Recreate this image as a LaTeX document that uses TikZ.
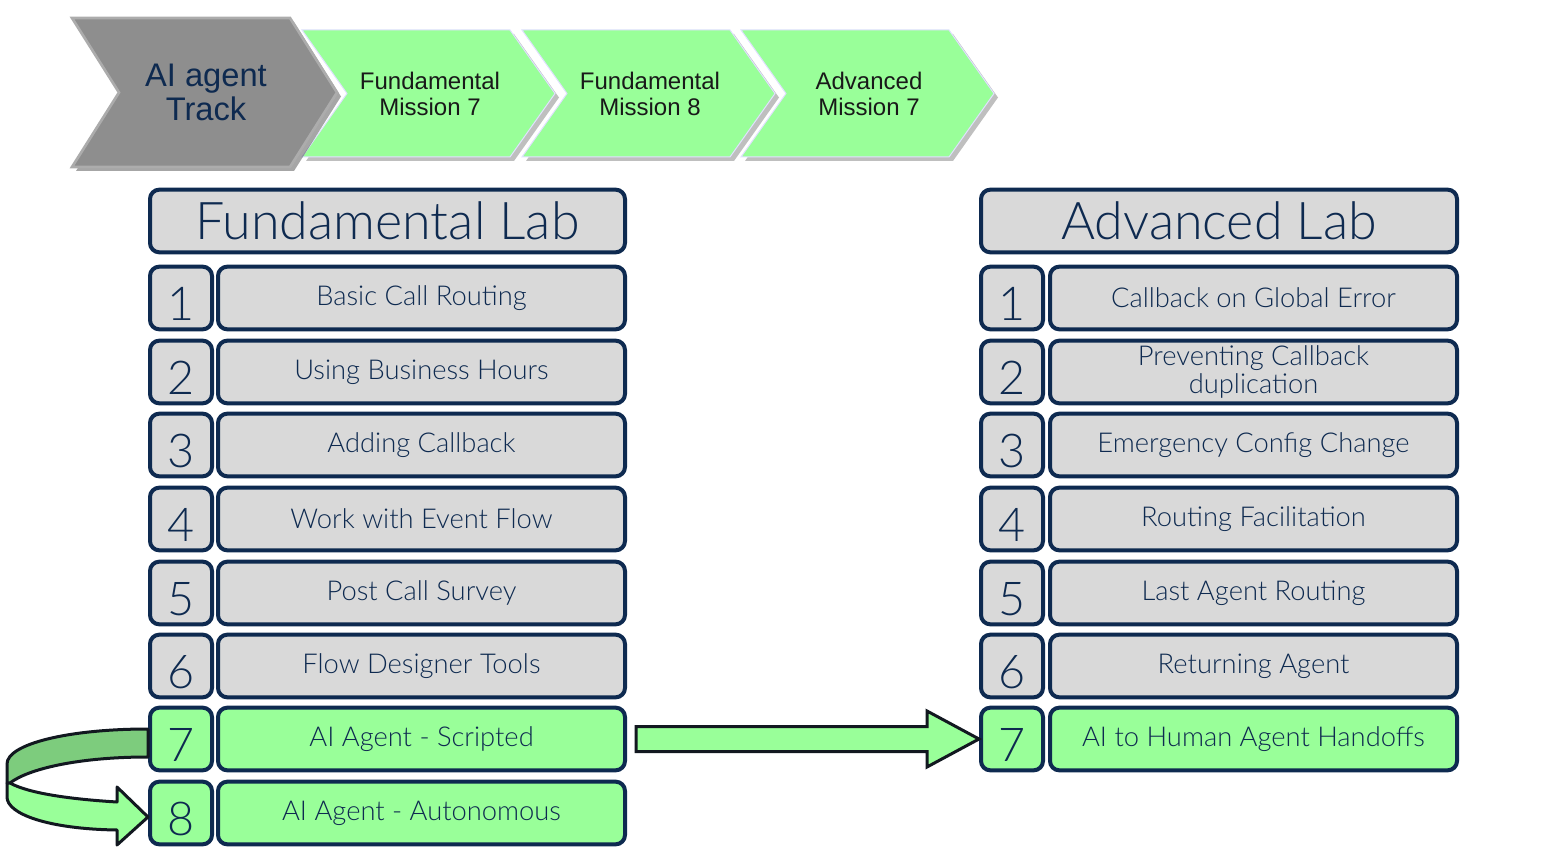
\documentclass[tikz,border=0pt]{standalone}
\usepackage{fontspec}
\setmainfont{Lato Light}
\newfontfamily\arialfont{Liberation Sans}
\usepackage{tikz}
\usetikzlibrary{calc,shadows}
\definecolor{navy}{HTML}{0E2A50}
\definecolor{labgray}{HTML}{D9D9D9}
\definecolor{labgreen}{HTML}{99FF99}
\definecolor{darkgreen}{HTML}{7DCC7D}
\definecolor{chevgray}{HTML}{8E8E8E}
\definecolor{outline}{HTML}{121820}
\tikzset{
    labbox/.style={draw=navy,line width=3pt,rounded corners=7pt,fill=labgray,text=navy,inner sep=0pt},
    titlebox/.style={labbox,minimum width=356.25pt,minimum height=47pt,font=\fontsize{39}{43}\selectfont},
    numbox/.style={labbox,minimum width=46.5pt,minimum height=47pt,text height=34pt,text depth=0pt,font=\fontsize{35}{38}\selectfont},
    stepbox/.style={labbox,minimum width=305.25pt,minimum height=47pt,align=center,font=\fontsize{20.5}{21.5}\selectfont},
    done/.style={fill=labgreen},
    chevron/.style={fill=labgreen,draw=blue!12,line width=0.75pt,line join=miter,
        drop shadow={shadow xshift=3pt,shadow yshift=-3pt,fill=black,opacity=0.25}},
    trackchevron/.style={fill=chevgray,draw=gray!65,line width=2pt,
        drop shadow={shadow xshift=3pt,shadow yshift=-3pt,fill=black,opacity=0.35}},
    chevtext/.style={align=center,text=black!90,font=\arialfont\fontsize{18}{19.5}\selectfont},
    bigarrow/.style={fill=labgreen,draw=outline,line width=2.25pt,line join=miter},
    turnarrow/.style={draw=outline,line width=2.25pt,line join=round}
}
\begin{document}
\begin{tikzpicture}[x=0.75pt,y=-0.75pt]
\useasboundingbox (0,0) rectangle (1543,852);
% mission track
\draw[chevron](302,30)--++(208,0)--++(45,63.5)--++(-45,63.5)--++(-208,0)--++(45,-63.5)--cycle;
\draw[chevron](522,30)--++(208,0)--++(45,63.5)--++(-45,63.5)--++(-208,0)--++(45,-63.5)--cycle;
\draw[chevron](741,30)--++(208,0)--++(45,63.5)--++(-45,63.5)--++(-208,0)--++(45,-63.5)--cycle;
\draw[trackchevron](72,18)--(290,18)--(337,92.5)--(290,167)--(72,167)--(119,92.5)--cycle;
\node[align=center,text=navy,font=\arialfont\fontsize{24.5}{26}\selectfont](track) at (206,92.5){AI agent\\Track};
\node[chevtext](mis1) at (430,93.5){Fundamental\\Mission 7};
\node[chevtext](mis2) at (650,93.5){Fundamental\\Mission 8};
\node[chevtext](mis3) at (869,93.5){Advanced\\Mission 7};
% fundamental lab
\node[titlebox](fhead) at (387.5,221){Fundamental Lab};
\node[numbox](fnum1) at (181,298){1};
\node[stepbox](ftxt1) at (421.5,298){Basic Call Routing};
\node[numbox](fnum2) at (181,372){2};
\node[stepbox](ftxt2) at (421.5,372){Using Business Hours};
\node[numbox](fnum3) at (181,445){3};
\node[stepbox](ftxt3) at (421.5,445){Adding Callback};
\node[numbox](fnum4) at (181,519){4};
\node[stepbox](ftxt4) at (421.5,519){Work with Event Flow};
\node[numbox](fnum5) at (181,593){5};
\node[stepbox](ftxt5) at (421.5,593){Post Call Survey};
\node[numbox](fnum6) at (181,666){6};
\node[stepbox](ftxt6) at (421.5,666){Flow Designer Tools};
\node[numbox,done](fnum7) at (181,739){7};
\node[stepbox,done](ftxt7) at (421.5,739){AI Agent - Scripted};
\node[numbox,done](fnum8) at (181,813){8};
\node[stepbox,done](ftxt8) at (421.5,813){AI Agent - Autonomous};
% advanced lab
\node[titlebox,minimum width=357pt](ahead) at (1219,221){Advanced Lab};
\node[numbox](anum1) at (1012,298){1};
\node[stepbox](atxt1) at (1253.5,298){Callback on Global Error};
\node[numbox](anum2) at (1012,372){2};
\node[stepbox](atxt2) at (1253.5,372){Preventing Callback\\duplication};
\node[numbox](anum3) at (1012,445){3};
\node[stepbox](atxt3) at (1253.5,445){Emergency Config Change};
\node[numbox](anum4) at (1012,519){4};
\node[stepbox](atxt4) at (1253.5,519){Routing Facilitation};
\node[numbox](anum5) at (1012,593){5};
\node[stepbox](atxt5) at (1253.5,593){Last Agent Routing};
\node[numbox](anum6) at (1012,666){6};
\node[stepbox](atxt6) at (1253.5,666){Returning Agent};
\node[numbox,done](anum7) at (1012,739){7};
\node[stepbox,done](atxt7) at (1253.5,739){AI to Human Agent Handoffs};
% fundamental 7 -> advanced 7
\draw[bigarrow]($(ftxt7.east)+(9,-12.5)$)--($(anum7.west)+(-52,-12.5)$)--($(anum7.west)+(-52,-28)$)
    --(anum7.west)--($(anum7.west)+(-52,28)$)--($(anum7.west)+(-52,12.5)$)--($(ftxt7.east)+(9,12.5)$)--cycle;
% fundamental 7 -> 8
\begin{scope}[shift={(fnum7.west)}]
\draw[turnarrow,fill=darkgreen](0,-10)..controls(-80,-10)and(-141,5)..(-141,25)--(-141,44)--(-138,44)
    ..controls(-120,30)and(-70,18)..(0,18)--cycle;
\draw[turnarrow,fill=labgreen](-138,44)..controls(-120,54)and(-80,60)..(-31,63)--(-31,48)--(0,78)--(-31,106)--(-31,91)
    ..controls(-100,90)and(-141,75)..(-141,58)--(-141,44)--cycle;
\end{scope}
\end{tikzpicture}
\end{document}
